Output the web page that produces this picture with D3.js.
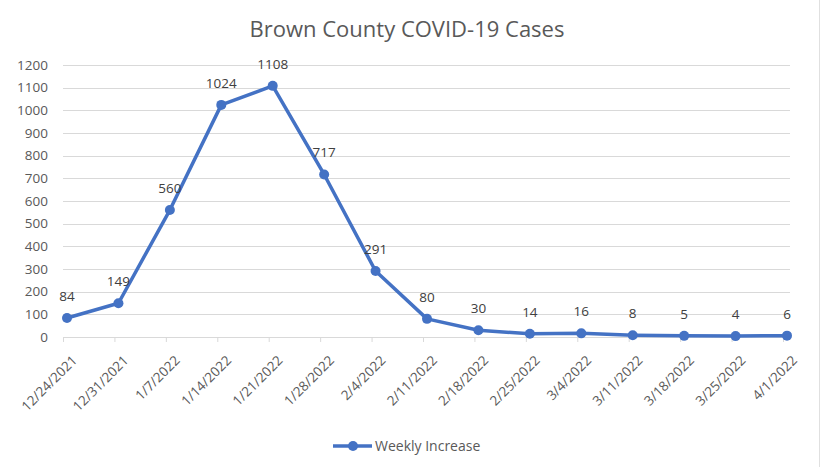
<!DOCTYPE html>
<html><head><meta charset="utf-8">
<script src="https://cdn.jsdelivr.net/npm/d3@7/dist/d3.min.js"></script>
<style>body{margin:0;background:#fff;}svg{display:block;}</style>
</head><body>
<svg id="c" width="821" height="467"></svg>
<script>
const categories = ["12/24/2021","12/31/2021","1/7/2022","1/14/2022","1/21/2022","1/28/2022","2/4/2022","2/11/2022","2/18/2022","2/25/2022","3/4/2022","3/11/2022","3/18/2022","3/25/2022","4/1/2022"];
const weeklyIncrease = [84,149,560,1024,1108,717,291,80,30,14,16,8,5,4,6];
const yTicks = [0,100,200,300,400,500,600,700,800,900,1000,1100,1200];
const seriesName = "Weekly Increase";
const title = "Brown County COVID-19 Cases";

const font = "'Open Sans', sans-serif";
const svg = d3.select("#c");
svg.append("line").attr("x1",819.5).attr("x2",819.5).attr("y1",0).attr("y2",467).attr("stroke","#e0e0e0");

const x = d3.scalePoint().domain(categories).range([67, 787]);
const y = d3.scaleLinear().domain([0,1200]).range([337, 65]);

// gridlines
svg.append("g").selectAll("line").data(yTicks.filter(d=>d>0)).join("line")
  .attr("x1",63).attr("x2",790).attr("y1",d=>Math.round(y(d))+0.5).attr("y2",d=>Math.round(y(d))+0.5)
  .attr("stroke","#d9d9d9").attr("stroke-width",1);

// y axis labels
const ya = svg.append("g").attr("transform","translate(63,0)")
  .call(d3.axisLeft(y).tickValues(yTicks).tickFormat(d3.format("d")).tickSize(0).tickPadding(15));
ya.select(".domain").remove();
ya.selectAll("text").attr("font-family",font).attr("font-size","13.5px").attr("fill","#595959");

// x axis
const xa = svg.append("g").attr("transform","translate(0,337)")
  .call(d3.axisBottom(x).tickSize(5));
xa.select(".domain").attr("d","M63,0.5H790").attr("stroke","#d9d9d9");
xa.selectAll(".tick line").attr("stroke","#d9d9d9").attr("transform","translate(-4,0)");
xa.selectAll("text").attr("font-family",font).attr("font-size","13.5px").attr("fill","#595959")
  .attr("text-anchor","end").attr("x",0).attr("y",0).attr("dy","0.35em")
  .attr("transform","translate(7,21) rotate(-45)");

// line
const line = d3.line().x((d,i)=>x(categories[i])).y(d=>y(d));
svg.append("path").datum(weeklyIncrease).attr("d",line)
  .attr("fill","none").attr("stroke","#4472C4").attr("stroke-width",3.5).attr("stroke-linejoin","round");
svg.append("g").selectAll("circle").data(weeklyIncrease).join("circle")
  .attr("cx",(d,i)=>x(categories[i])).attr("cy",d=>y(d)).attr("r",5).attr("fill","#4472C4");

// data labels
svg.append("g").selectAll("text").data(weeklyIncrease).join("text")
  .attr("x",(d,i)=>x(categories[i])).attr("y",d=>y(d)-17)
  .attr("text-anchor","middle").attr("font-family",font).attr("font-size","13.5px").attr("fill","#404040")
  .text(d=>d);

// title
svg.append("text").attr("x",407).attr("y",37).attr("text-anchor","middle")
  .attr("font-family",font).attr("font-size","22px").attr("fill","#595959").text(title);

// legend
const lg = svg.append("g");
lg.append("line").attr("x1",333).attr("x2",372).attr("y1",446).attr("y2",446).attr("stroke","#4472C4").attr("stroke-width",3.5);
lg.append("circle").attr("cx",353).attr("cy",446).attr("r",5).attr("fill","#4472C4");
lg.append("text").attr("x",375).attr("y",451).attr("font-family",font).attr("font-size","14px").attr("fill","#595959").text(seriesName);
</script>
</body></html>
